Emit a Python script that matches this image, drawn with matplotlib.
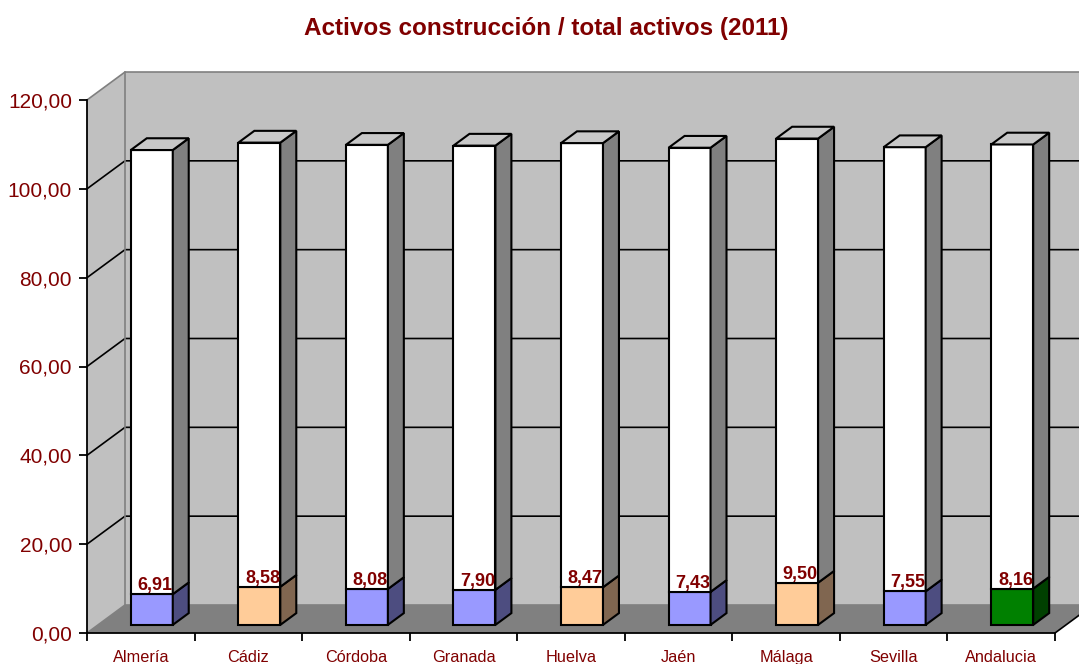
import numpy as np
import matplotlib
matplotlib.use("Agg")
import matplotlib.pyplot as plt
from matplotlib.patches import Polygon

plt.rcParams["font.family"] = ["Liberation Sans", "DejaVu Sans"]

# Data
provincias = ["Almería", "Cádiz", "Córdoba", "Granada", "Huelva",
              "Jaén", "Málaga", "Sevilla", "Andalucia"]
construccion = [6.91, 8.58, 8.08, 7.90, 8.47, 7.43, 9.50, 7.55, 8.16]
total = [100, 100, 100, 100, 100, 100, 100, 100, 100]
etiquetas = ["6,91", "8,58", "8,08", "7,90", "8,47", "7,43", "9,50", "7,55", "8,16"]
grupo = ["azul", "naranja", "azul", "azul", "naranja", "azul", "naranja", "azul", "verde"]
yticks = [0, 20, 40, 60, 80, 100, 120]

# Colours (front, side)
colores = {
    "azul": ("#9999FF", "#4D4D80"),
    "naranja": ("#FFCC99", "#806650"),
    "verde": ("#008000", "#004000"),
    "blanco": ("#FFFFFF", "#808080"),
}
rojo = "#800000"

# 3D projection offsets (in data units)
DX = 38 / (968 / 9)
DY = 28 / (533 / 120)
D0, D1 = 0.29, 0.71
W = 0.39
n = len(provincias)
ymax = 120


def P(x, y, d):
    return (x + d * DX, y + d * DY)


fig = plt.figure(figsize=(10.79, 6.64), dpi=100)
ax = fig.add_axes([87 / 1079, 31 / 664, 968 / 1079, 533 / 664])
ax.set_xlim(0, n)
ax.set_ylim(0, ymax)
ax.patch.set_visible(False)


def poly(pts, fc, ec="none", lw=1.5, z=1):
    ax.add_patch(Polygon(pts, closed=True, facecolor=fc, edgecolor=ec,
                         linewidth=lw, clip_on=False, zorder=z, joinstyle="miter"))


# walls and floor
poly([P(0, 0, 0), P(n, 0, 0), P(n, 0, 1), P(0, 0, 1)], "#808080", z=0.5)
poly([P(0, 0, 0), P(0, ymax, 0), P(0, ymax, 1), P(0, 0, 1)], "#C0C0C0", z=0.5)
poly([P(0, 0, 1), P(n, 0, 1), P(n, ymax, 1), P(0, ymax, 1)], "#C0C0C0", z=0.5)

# gridlines
for v in yticks:
    c = "black" if 0 < v < ymax else "#808080"
    xs, ys = zip(P(0, v, 0), P(0, v, 1), P(n, v, 1))
    ax.plot(xs, ys, color=c, lw=1.2, clip_on=False, zorder=0.8)
xs, ys = zip(P(0, 0, 1), P(0, ymax, 1))
ax.plot(xs, ys, color="#808080", lw=1.2, clip_on=False, zorder=0.8)
xs, ys = zip(P(n, 0, 0), P(n, 0, 1))
ax.plot(xs, ys, color="black", lw=1.2, clip_on=False, zorder=0.8)


def barra(cx, y0, y1, fc, sc, top):
    x0, x1 = cx - W / 2, cx + W / 2
    poly([P(x0, y0, D0), P(x1, y0, D0), P(x1, y1, D0), P(x0, y1, D0)], fc, "black", z=2)
    poly([P(x1, y0, D0), P(x1, y0, D1), P(x1, y1, D1), P(x1, y1, D0)], sc, "black", z=2)
    if top:
        poly([P(x0, y1, D0), P(x1, y1, D0), P(x1, y1, D1), P(x0, y1, D1)],
             "#C8C8C8", "black", z=2)


for i in range(n):
    cx = i + 0.5
    fc, sc = colores[grupo[i]]
    barra(cx, 0, construccion[i], fc, sc, False)
    wf, ws = colores["blanco"]
    barra(cx, construccion[i], construccion[i] + total[i], wf, ws, True)
    lx, ly = P(cx, construccion[i], D0)
    ax.text(lx + 0.03, ly + 0.9, etiquetas[i], ha="center", va="baseline",
            fontsize=13, fontweight="bold", color=rojo, zorder=3)

# axes
for s in ["top", "right"]:
    ax.spines[s].set_visible(False)
for s in ["left", "bottom"]:
    ax.spines[s].set_linewidth(1.3)
    ax.spines[s].set_zorder(2.5)
ax.set_yticks(yticks)
ax.set_yticklabels([f"{v},00" for v in yticks])
ax.tick_params(axis="y", direction="out", length=5.8, width=1.3,
               labelsize=15, labelcolor=rojo, pad=5)
ax.set_xticks(np.arange(n + 1))
ax.set_xticklabels([])
ax.set_xticks(np.arange(n) + 0.5, minor=True)
ax.set_xticklabels(provincias, minor=True)
ax.tick_params(axis="x", which="major", direction="out", length=5.8, width=1.3)
ax.tick_params(axis="x", which="minor", length=0, labelsize=11.7,
               labelcolor=rojo, pad=12)

fig.text(546 / 1079, 1 - 28 / 664, "Activos construcción / total activos (2011)",
         ha="center", va="center", fontsize=17.5, fontweight="bold", color=rojo)

fig.savefig("out.png", dpi=100)
